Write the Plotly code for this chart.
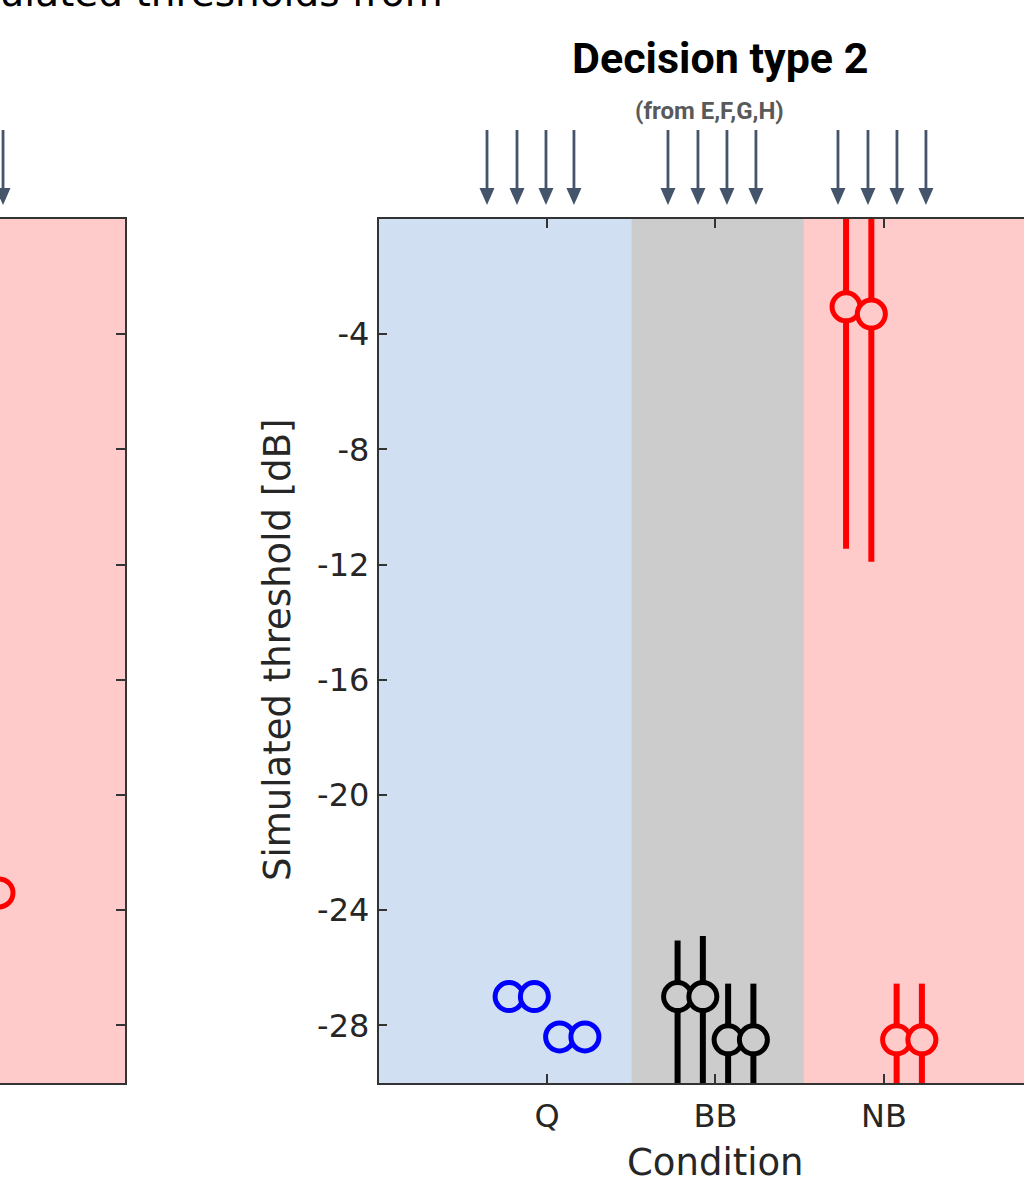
import plotly.graph_objects as go

W, H = 1024, 1191

# ---------------- data ----------------
conditions = ["Q", "BB", "NB"]
cond_pos = [1, 2, 3]
decision_rules = ["E", "F", "G", "H"]
rule_offsets = [-0.225, -0.075, 0.075, 0.225]

thr_Q = [-27.0, -27.0, -28.4, -28.4]
thr_BB = [-27.0, -27.0, -28.5, -28.5]
thr_NB = [-3.05, -3.3, -28.5, -28.5]

err_up_BB = [1.95, 2.1, 1.95, 1.95]
err_dn_BB = [3.5, 3.5, 1.95, 1.95]
err_up_NB = [4.0, 4.0, 1.95, 1.95]
err_dn_NB = [8.4, 8.6, 1.95, 1.95]

# partially visible neighbouring panel (Decision type 1), only NB/H in view
left_cond = [3]
left_offset = [0.225]
left_thr = [-23.4]

yticks = [-28, -24, -20, -16, -12, -8, -4]
ytick_text = ["-28", "-24", "-20", "-16", "-12", "-8", "-4"]
region_edges = [0, 1.5, 2.525, 4.5]

# arrow marks above the panel (axis units)
arrow_x = [0.644, 0.822, 0.994, 1.160, 1.718, 1.896, 2.068, 2.240,
           2.727, 2.905, 3.077, 3.249]
left_arrow_x = [3.249]

# ---------------- style ----------------
line_cols = ["#0000ff", "#000000", "#ff0000"]
bg_cols = ["#d1dff2", "#cccccc", "#ffcaca"]
axis_col = "#333333"
text_col = "#262626"
arrow_col = "#44546a"
font_main = "DejaVu Sans"
font_title = "Roboto, Lato, sans-serif"


def px_x(x):
    return x / W


def px_y(y):
    return 1 - y / H


fig = go.Figure()

series = [
    (thr_Q, None, None),
    (thr_BB, err_up_BB, err_dn_BB),
    (thr_NB, err_up_NB, err_dn_NB),
]
for i, (vals, eu, ed) in enumerate(series):
    xs = [cond_pos[i] + o for o in rule_offsets]
    err = dict(visible=False)
    if eu is not None:
        err = dict(type="data", symmetric=False, array=eu, arrayminus=ed,
                   color=line_cols[i], thickness=6, width=0)
    fig.add_trace(go.Scatter(
        x=xs, y=vals, mode="markers", name=conditions[i],
        text=decision_rules, error_y=err,
        marker=dict(symbol="circle", size=28, color=bg_cols[i],
                    line=dict(color=line_cols[i], width=5)),
        xaxis="x", yaxis="y", showlegend=False))

fig.add_trace(go.Scatter(
    x=[c + o for c, o in zip(left_cond, left_offset)], y=left_thr,
    mode="markers", showlegend=False,
    marker=dict(symbol="circle", size=28, color=bg_cols[2],
                line=dict(color=line_cols[2], width=5)),
    xaxis="x2", yaxis="y2"))

# background regions
shapes = []
for i in range(3):
    shapes.append(dict(type="rect", xref="x", yref="y domain",
                       x0=region_edges[i], x1=region_edges[i + 1], y0=0, y1=1,
                       fillcolor=bg_cols[i], line=dict(width=0), layer="below"))
shapes.append(dict(type="rect", xref="x2", yref="y2 domain",
                   x0=region_edges[2], x1=region_edges[3], y0=0, y1=1,
                   fillcolor=bg_cols[2], line=dict(width=0), layer="below"))

# arrows
shaft_top, head_base, tip = 130, 188, 205
for xr, xs_list in (("x", arrow_x), ("x2", left_arrow_x)):
    for xa in xs_list:
        shapes.append(dict(type="line", xref=xr, yref="paper",
                           x0=xa, x1=xa, y0=px_y(shaft_top), y1=px_y(head_base + 2),
                           line=dict(color=arrow_col, width=2.8), layer="above"))
        shapes.append(dict(type="path", xref=xr, yref="paper",
                           xsizemode="pixel", xanchor=xa,
                           path=f"M-7.5,{px_y(head_base)} L7.5,{px_y(head_base)} L0,{px_y(tip)} Z",
                           fillcolor=arrow_col, line=dict(width=0), layer="above"))

ydom = [px_y(1083), px_y(219)]
common_axis = dict(showline=True, linecolor=axis_col, linewidth=1.5,
                   ticks="inside", ticklen=9, tickwidth=1.5, tickcolor=axis_col,
                   showgrid=False, zeroline=False)

annotations = [
    dict(text="<b>Decision type 2</b>", x=px_x(720), y=px_y(58), xref="paper", yref="paper",
         showarrow=False, xanchor="center", yanchor="middle",
         font=dict(family=font_title, size=43, color="#000000")),
    dict(text="<b>(from E,F,G,H)</b>", x=px_x(709), y=px_y(111), xref="paper", yref="paper",
         showarrow=False, xanchor="center", yanchor="middle",
         font=dict(family=font_title, size=24, color="#595959")),
    dict(text="Simulated threshold [dB]", x=px_x(277), y=px_y(650), xref="paper", yref="paper",
         showarrow=False, xanchor="center", yanchor="middle", textangle=-90,
         font=dict(family=font_main, size=37, color=text_col)),
    dict(text="Condition", x=px_x(715), y=px_y(1162), xref="paper", yref="paper",
         showarrow=False, xanchor="center", yanchor="middle",
         font=dict(family=font_main, size=37, color=text_col)),
    dict(text="Simulated thresholds from", x=px_x(445), y=px_y(-7), xref="paper", yref="paper",
         showarrow=False, xanchor="right", yanchor="middle",
         font=dict(family=font_main, size=39, color="#000000")),
]

fig.update_layout(
    width=W, height=H, margin=dict(l=0, r=0, t=0, b=0),
    paper_bgcolor="white", plot_bgcolor="white",
    shapes=shapes, annotations=annotations,
    xaxis=dict(domain=[px_x(378.5), 1.0], range=[0, 3.831], anchor="y",
               tickvals=cond_pos, ticktext=conditions, mirror="allticks",
               tickfont=dict(family=font_main, size=32, color=text_col),
               ticklabelstandoff=4, **common_axis),
    yaxis=dict(domain=ydom, range=[-30, 0], anchor="x", tickvals=yticks,
               ticktext=ytick_text, mirror=False,
               tickfont=dict(family=font_main, size=32, color=text_col),
               ticklabelstandoff=1, **common_axis),
    xaxis2=dict(domain=[0, px_x(125)], range=[3.231, 3.973], anchor="y2",
                tickvals=cond_pos, showticklabels=False, mirror="allticks",
                **common_axis),
    yaxis2=dict(domain=ydom, range=[-30, 0], anchor="x2", side="right",
                tickvals=yticks, showticklabels=False, mirror=False,
                **common_axis),
)

fig.write_html("out.html", config={"displayModeBar": False},
               post_script="document.body.style.margin='0';document.body.style.overflow='hidden';")
